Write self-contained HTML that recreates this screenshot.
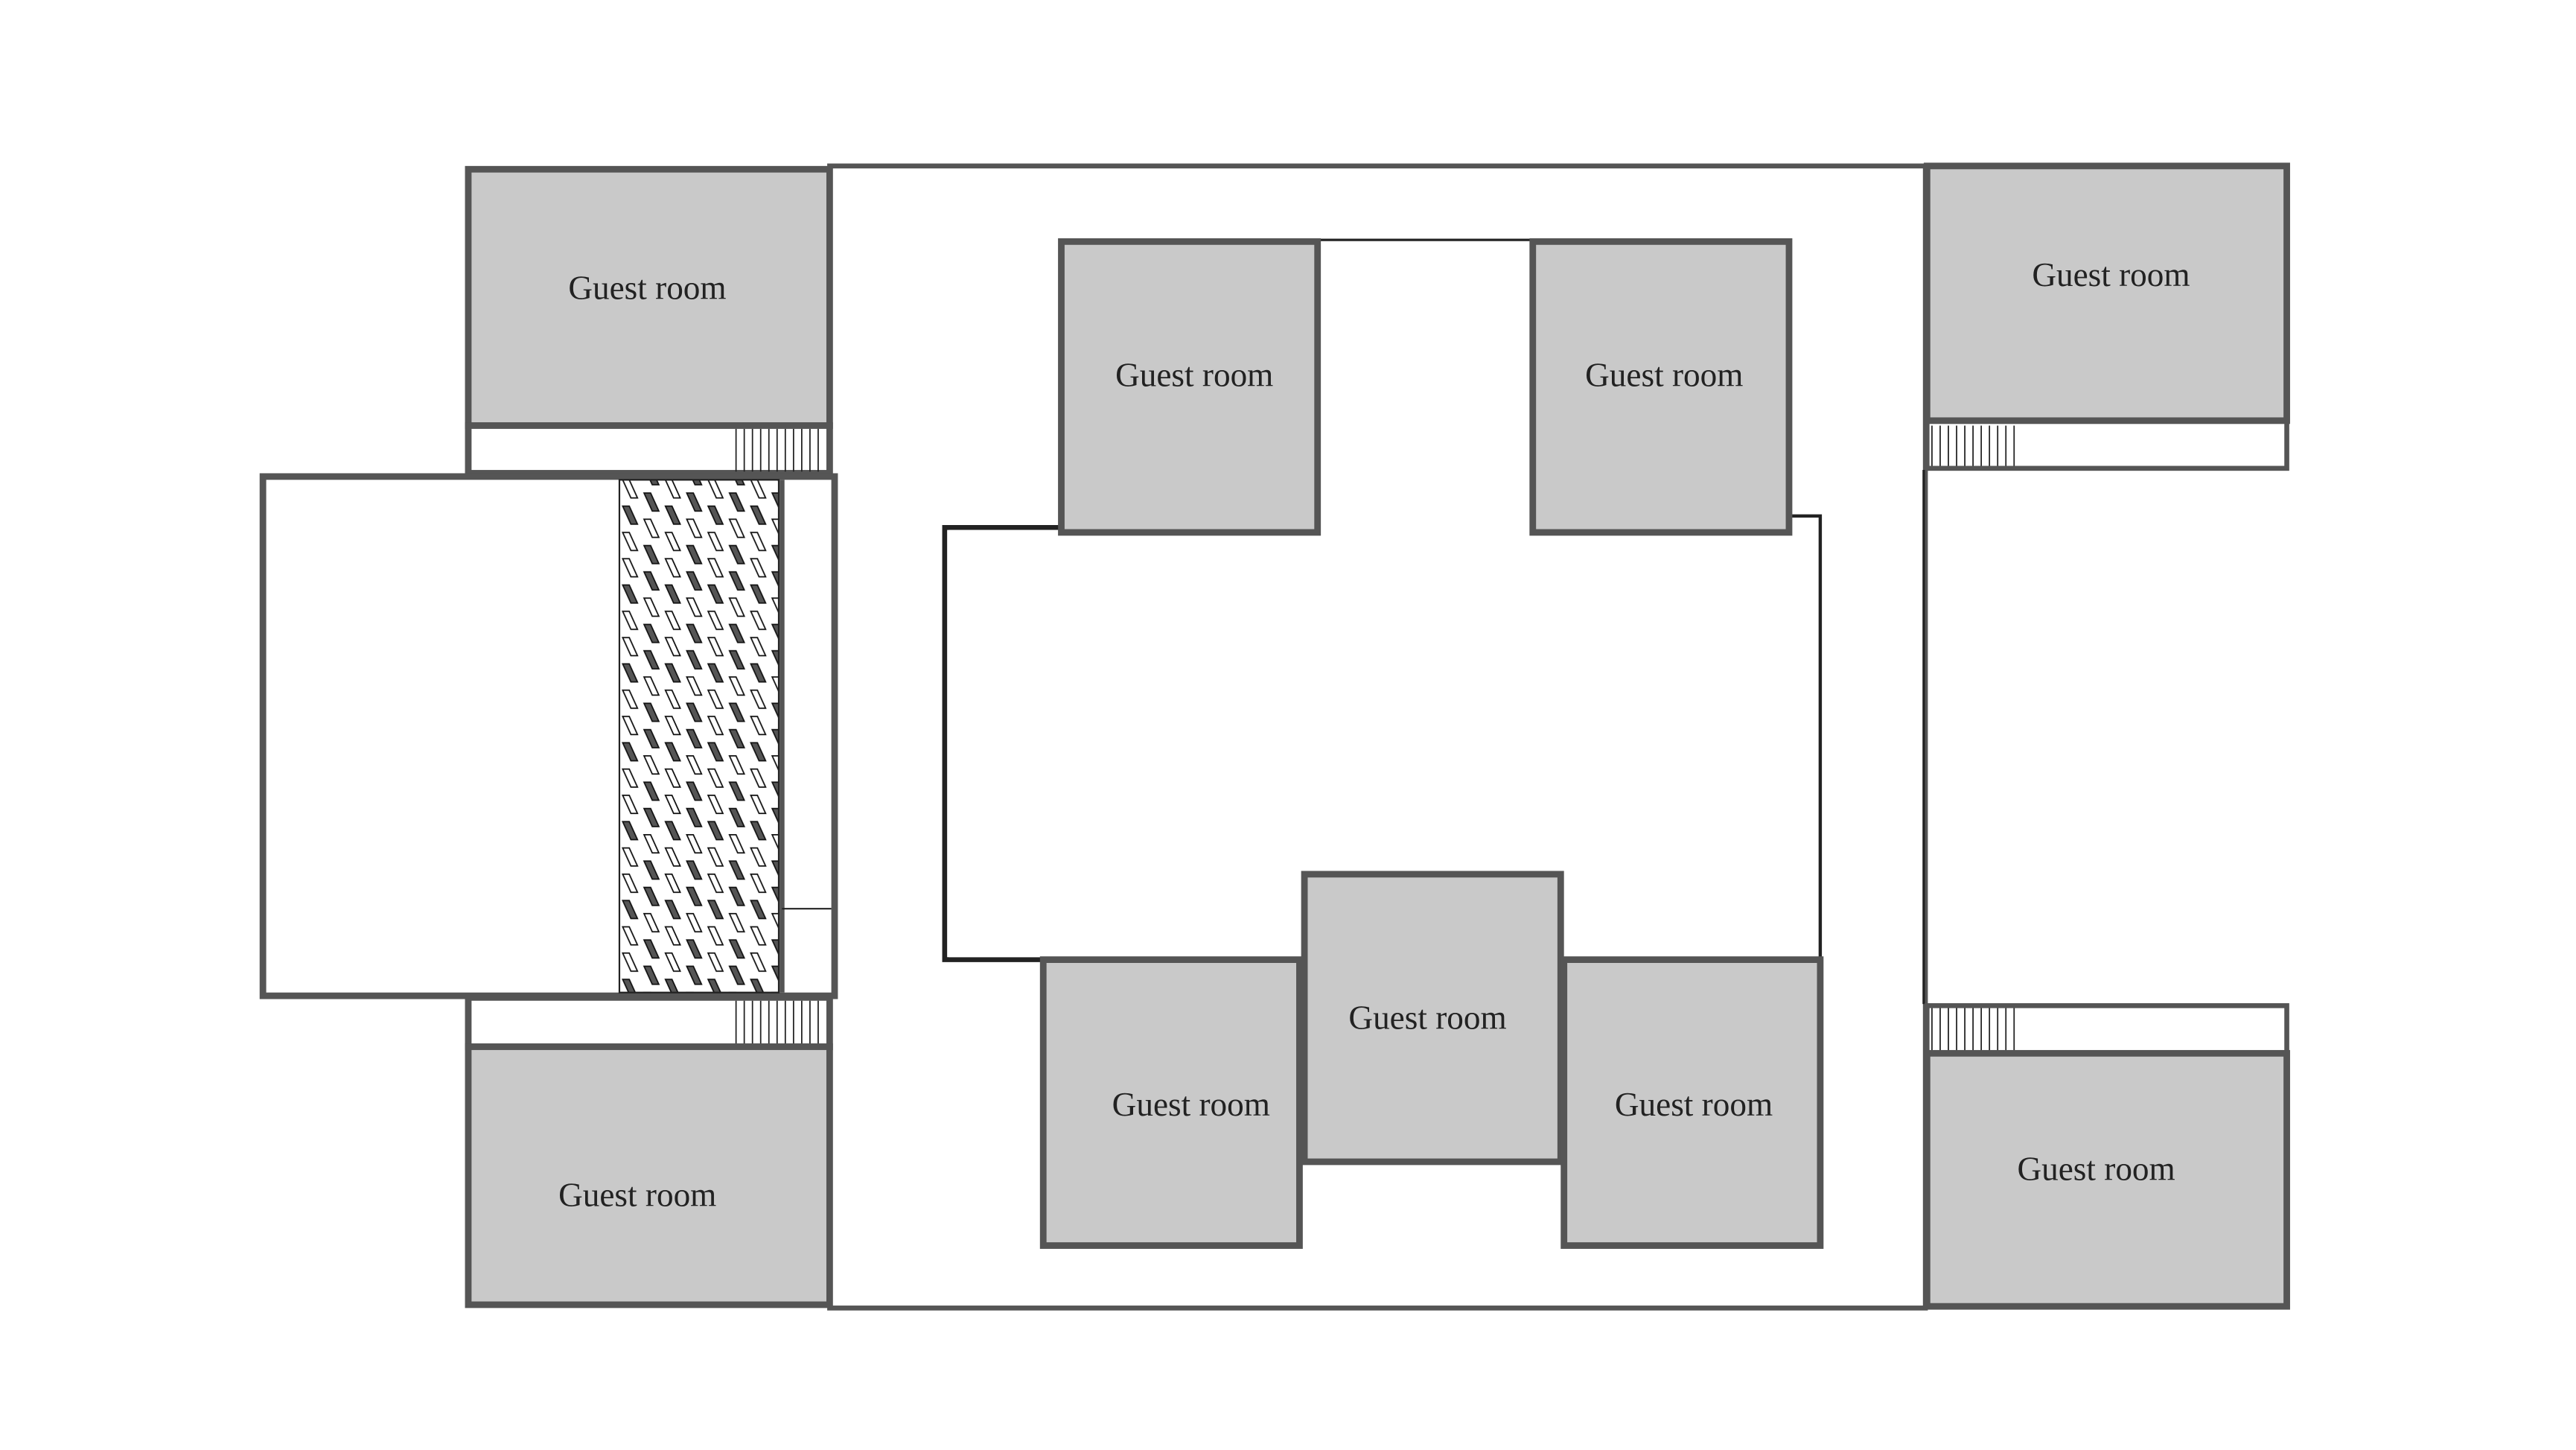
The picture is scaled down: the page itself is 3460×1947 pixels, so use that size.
<!DOCTYPE html>
<html><head><meta charset="utf-8"><style>
html,body{margin:0;padding:0;background:#fff;width:3460px;height:1947px;overflow:hidden}
svg{display:block}
text{font-family:"Liberation Serif",serif;font-size:20.5px;fill:#222;text-anchor:middle}
</style></head><body>
<svg width="3460" height="1947" viewBox="0 0 1568 882.4" xmlns="http://www.w3.org/2000/svg">
<defs>
<pattern id="dia" patternUnits="userSpaceOnUse" x="378" y="290" width="26" height="48">
<g stroke="#111" stroke-width="0.8">
<polygon points="1,2 5,2 10,13 6,13" fill="#fff"/>
<polygon points="14,10 18,10 23,21 19,21" fill="#555"/>
<polygon points="1,18 5,18 10,29 6,29" fill="#555"/>
<polygon points="14,26 18,26 23,37 19,37" fill="#fff"/>
<polygon points="1,34 5,34 10,45 6,45" fill="#fff"/>
<polygon points="14,42 18,42 23,53 19,53" fill="#555"/>
<polygon points="14,-6 18,-6 23,5 19,5" fill="#555"/>
</g>
</pattern>
</defs>
<g fill="none" stroke="#555">
<rect x="505" y="101" width="667" height="695" stroke-width="3"/>
<rect x="285" y="103" width="220" height="156" fill="#c9c9c9" stroke-width="4"/>
<rect x="285" y="259" width="220" height="29" fill="#fff" stroke-width="4"/>
<rect x="160" y="290" width="348" height="316" fill="#fff" stroke-width="4"/>
<rect x="377" y="292" width="97" height="312" fill="url(#dia)" stroke="#222" stroke-width="1"/>
<line x1="476" y1="292" x2="476" y2="604" stroke-width="3"/>
<line x1="476" y1="553" x2="506" y2="553" stroke="#222" stroke-width="1"/>
<rect x="285" y="607" width="220" height="30" fill="#fff" stroke-width="4"/>
<rect x="285" y="637" width="220" height="157" fill="#c9c9c9" stroke-width="4"/>
<g stroke="#222" stroke-width="0.8">
<path d="M448 261V287M453 261V287M458 261V287M463 261V287M468 261V287M473 261V287M478 261V287M483 261V287M488 261V287M493 261V287M498 261V287"/>
<path d="M448 609V635M453 609V635M458 609V635M463 609V635M468 609V635M473 609V635M478 609V635M483 609V635M488 609V635M493 609V635M498 609V635"/>
<path d="M1176 259V284M1181 259V284M1186 259V284M1191 259V284M1196 259V284M1201 259V284M1206 259V284M1211 259V284M1216 259V284M1221 259V284M1226 259V284"/>
<path d="M1176 613V639M1181 613V639M1186 613V639M1191 613V639M1196 613V639M1201 613V639M1206 613V639M1211 613V639M1216 613V639M1221 613V639M1226 613V639"/>
</g>
<path d="M646 321H575V584H635" stroke="#222" stroke-width="3"/>
<path d="M646 323H578V582H635" stroke="#fff" stroke-width="1"/>
<path d="M1088 314H1108V583" stroke="#222" stroke-width="2"/>
<line x1="803" y1="146" x2="932" y2="146" stroke="#222" stroke-width="1.5"/>
<rect x="646" y="147" width="156" height="177" fill="#c9c9c9" stroke-width="4"/>
<rect x="933" y="147" width="156" height="177" fill="#c9c9c9" stroke-width="4"/>
<rect x="635" y="584" width="156" height="174" fill="#c9c9c9" stroke-width="4"/>
<rect x="794" y="532" width="156" height="175" fill="#c9c9c9" stroke-width="4"/>
<rect x="952" y="584" width="156" height="174" fill="#c9c9c9" stroke-width="4"/>
<rect x="1173" y="101" width="219" height="155" fill="#c9c9c9" stroke-width="4"/>
<rect x="1173" y="256" width="219" height="29" fill="none" stroke-width="3"/>
<line x1="1171" y1="286" x2="1171" y2="611" stroke="#222" stroke-width="1.5"/>
<rect x="1173" y="612" width="219" height="29" fill="none" stroke-width="3"/>
<rect x="1173" y="641" width="219" height="154" fill="#c9c9c9" stroke-width="4"/>
</g>
<text x="394" y="182">Guest room</text>
<text x="388" y="734">Guest room</text>
<text x="727" y="235">Guest room</text>
<text x="1013" y="235">Guest room</text>
<text x="725" y="679">Guest room</text>
<text x="869" y="626">Guest room</text>
<text x="1031" y="679">Guest room</text>
<text x="1285" y="174">Guest room</text>
<text x="1276" y="718">Guest room</text>
</svg>
</body></html>
